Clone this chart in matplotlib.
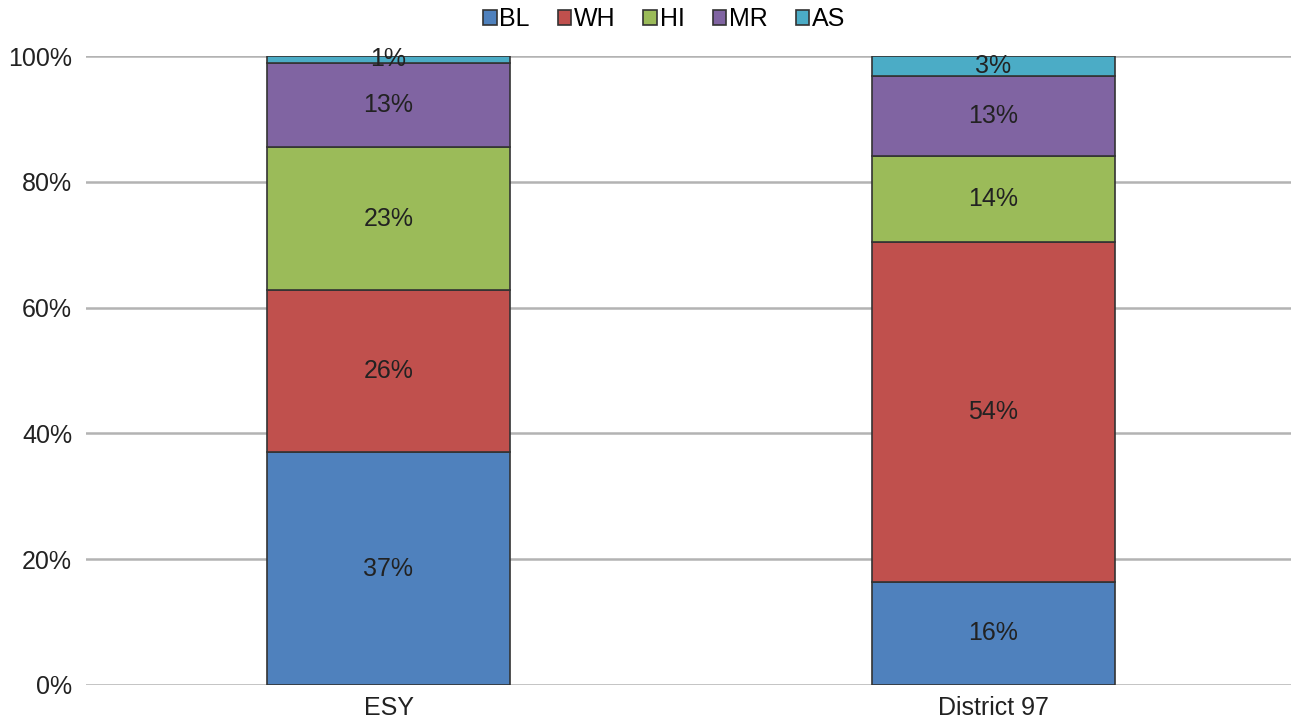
import matplotlib.pyplot as plt
import numpy as np

plt.rcParams['font.family'] = ['Liberation Sans', 'DejaVu Sans']

categories = ['ESY', 'District 97']
groups = ['BL', 'WH', 'HI', 'MR', 'AS']
bl = [37.0, 16.4]
wh = [25.8, 54.0]
hi = [22.7, 13.7]
mr = [13.4, 12.7]
asn = [1.1, 3.2]
labels = [['37%', '16%'], ['26%', '54%'], ['23%', '14%'], ['13%', '13%'], ['1%', '3%']]
colors = ['#4F81BD', '#C0504D', '#9BBB59', '#8064A2', '#4BACC6']

fig = plt.figure(figsize=(12.91, 7.27), dpi=100)
ax = fig.add_axes([86 / 1291, 1 - 685 / 727, 1210 / 1291, 629 / 727])

x = np.arange(len(categories))
bottom = np.zeros(len(categories))
for vals, name, col, labs in zip([bl, wh, hi, mr, asn], groups, colors, labels):
    vals = np.array(vals)
    ax.bar(x, vals, 0.402, bottom=bottom, color=col, edgecolor='#333333',
           linewidth=1.2, label=name, zorder=3)
    for xi, b, v, t in zip(x, bottom, vals, labs):
        ax.text(xi, b + v / 2, t, ha='center', va='center', fontsize=18,
                color='#222222', zorder=4)
    bottom += vals

ax.set_xlim(-0.5, 1.5)
ax.set_ylim(0, 100)
ax.set_yticks(range(0, 101, 20))
ax.set_yticklabels([f'{v}%' for v in range(0, 101, 20)])
ax.set_xticks(x)
ax.set_xticklabels(categories)
ax.tick_params(axis='both', length=0, labelsize=18, colors='#222222')
ax.tick_params(axis='y', pad=10)
ax.tick_params(axis='x', pad=8)
ax.grid(axis='y', color='#b3b3b3', linewidth=1.8, zorder=0)
for s in ax.spines.values():
    s.set_visible(False)

fig.legend(*ax.get_legend_handles_labels(), loc='center',
           bbox_to_anchor=(664 / 1291, 1 - 19 / 727), ncol=5, frameon=False,
           fontsize=18, handlelength=0.55, handleheight=0.55, handletextpad=0.1,
           columnspacing=1.12, borderaxespad=0)

fig.savefig('out.png', dpi=100)
